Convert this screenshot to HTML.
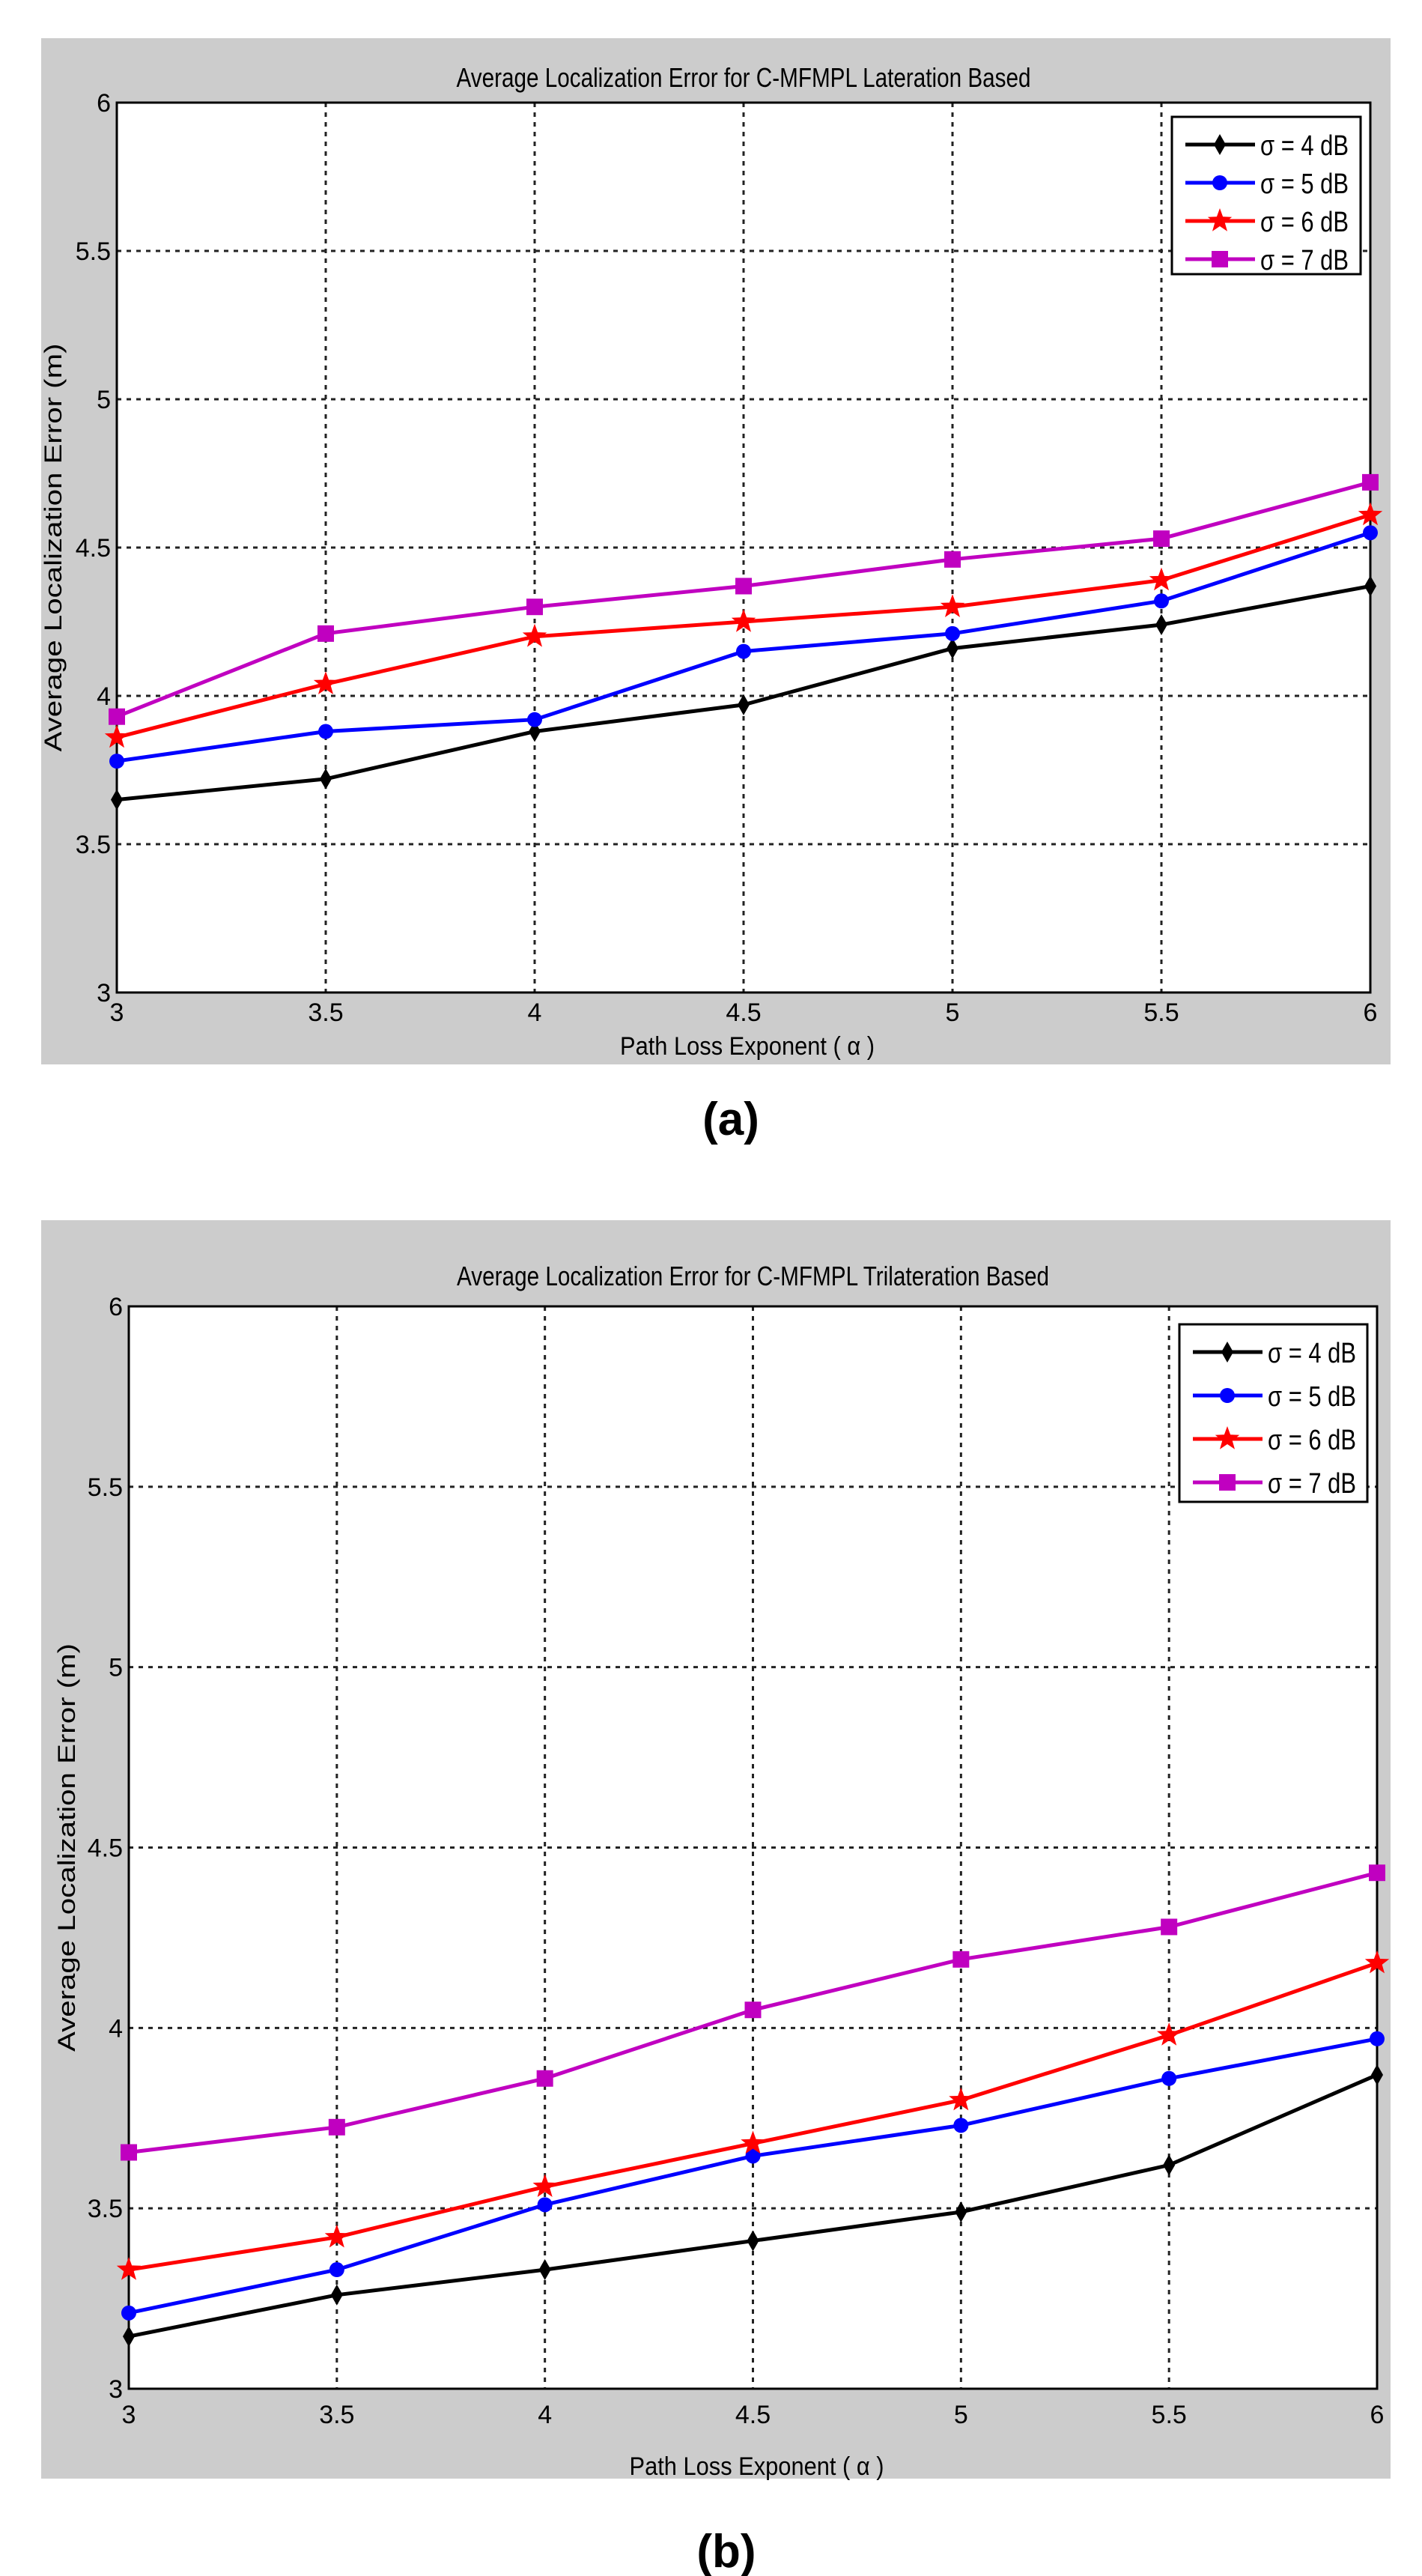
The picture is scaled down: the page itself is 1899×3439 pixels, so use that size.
<!DOCTYPE html>
<html><head><meta charset="utf-8"><style>
html,body{margin:0;padding:0;background:#fff;}
svg{display:block;}
text{font-family:"Liberation Sans",sans-serif;}
</style></head><body>
<svg id="root" width="1899" height="3439" viewBox="0 0 1899 3439" xmlns="http://www.w3.org/2000/svg">
<rect x="0" y="0" width="1899" height="3439" fill="#fff"/>
<g id="chartA"></g>
<g id="chartB"></g>
<text x="976" y="1515" text-anchor="middle" font-family="Liberation Serif,serif" font-weight="bold" font-size="62">(a)</text>
<text x="970" y="3427" text-anchor="middle" font-family="Liberation Serif,serif" font-weight="bold" font-size="62">(b)</text>
</svg>
<script>
const xCats = [3, 3.5, 4, 4.5, 5, 5.5, 6];
const xTickLabels = ["3","3.5","4","4.5","5","5.5","6"];
const yTicks = [3, 3.5, 4, 4.5, 5, 5.5, 6];
const yTickLabels = ["3","3.5","4","4.5","5","5.5","6"];
const seriesNames = ["σ = 4 dB","σ = 5 dB","σ = 6 dB","σ = 7 dB"];
const seriesColors = ["#000000","#0000ff","#ff0000","#c000c0"];
const seriesMarkers = ["diamond","circle","star","square"];
const aSigma4 = [3.65, 3.72, 3.88, 3.97, 4.16, 4.24, 4.37];
const aSigma5 = [3.78, 3.88, 3.92, 4.15, 4.21, 4.32, 4.55];
const aSigma6 = [3.86, 4.04, 4.20, 4.25, 4.30, 4.39, 4.61];
const aSigma7 = [3.93, 4.21, 4.30, 4.37, 4.46, 4.53, 4.72];
const bSigma4 = [3.145, 3.26, 3.33, 3.41, 3.49, 3.62, 3.87];
const bSigma5 = [3.21, 3.33, 3.51, 3.645, 3.73, 3.86, 3.97];
const bSigma6 = [3.33, 3.42, 3.56, 3.68, 3.80, 3.98, 4.18];
const bSigma7 = [3.655, 3.725, 3.86, 4.05, 4.19, 4.28, 4.43];

const NS = "http://www.w3.org/2000/svg";
function mk(tag, attrs, parent){
  const e = document.createElementNS(NS, tag);
  for (const k in attrs) e.setAttribute(k, attrs[k]);
  if (parent) parent.appendChild(e);
  return e;
}
function marker(g, type, cx, cy, color){
  let m;
  if (type === "diamond") m = mk("polygon",{points:`${cx},${cy-14} ${cx+8},${cy} ${cx},${cy+14} ${cx-8},${cy}`,fill:color},g);
  else if (type === "circle") m = mk("circle",{cx:cx,cy:cy,r:10,fill:color},g);
  else if (type === "square") m = mk("rect",{x:cx-11,y:cy-11,width:22,height:22,fill:color},g);
  else {
    let pts=[];
    for(let i=0;i<10;i++){const r=i%2?7:17;const a=-Math.PI/2+i*Math.PI/5;pts.push((cx+r*Math.cos(a)).toFixed(1)+","+(cy+r*Math.sin(a)).toFixed(1));}
    m = mk("polygon",{points:pts.join(" "),fill:color},g);
  }
  return m;
}
function drawChart(root, cfg, series){
  const {px,py,pw,ph,L,T,R,B,title,titleY,titleW,xlabY,ylabX,leg,rowH,xtOff} = cfg;
  const bg = mk("rect",{x:px,y:py,width:pw,height:ph,fill:"#cccccc"},root);
  
  
  const plot = mk("rect",{x:L,y:T,width:R-L,height:B-T,fill:"#fff"},root);
  
  
  const xs = v => L + (v-3)/(6-3)*(R-L);
  const ys = v => B - (v-3)/(6-3)*(B-T);
  const grid = mk("g",{},root);
  
  
  xCats.forEach((v,i)=>{
    if(i>0&&i<xCats.length-1) mk("line",{x1:xs(v),x2:xs(v),y1:T,y2:B,stroke:"#222","stroke-width":3,"stroke-dasharray":"6,7"},grid);
    const t = mk("text",{x:xs(v),y:B+xtOff,"text-anchor":"middle","font-size":34,fill:"#000"},root);
    t.textContent = xTickLabels[i];
    
    
  });
  yTicks.forEach((v,i)=>{
    if(i>0&&i<yTicks.length-1) mk("line",{x1:L,x2:R,y1:ys(v),y2:ys(v),stroke:"#222","stroke-width":3,"stroke-dasharray":"6,7"},grid);
    const t = mk("text",{x:L-8,y:ys(v)+12,"text-anchor":"end","font-size":34,fill:"#000"},root);
    t.textContent = yTickLabels[i];
    
    
  });
  const frame = mk("rect",{x:L,y:T,width:R-L,height:B-T,fill:"none",stroke:"#000","stroke-width":3},root);
  
  
  series.forEach((vals,si)=>{
    const g = mk("g",{},root);
    
    
    const pts = vals.map((v,i)=>xs(xCats[i]).toFixed(1)+","+ys(v).toFixed(1)).join(" ");
    mk("polyline",{points:pts,fill:"none",stroke:seriesColors[si],"stroke-width":5},g);
    vals.forEach((v,i)=>{
      const m = marker(g, seriesMarkers[si], xs(xCats[i]), ys(v), seriesColors[si]);
      
      
    });
  });
  const tt = mk("text",{x:(L+R)/2,y:titleY,"text-anchor":"middle","font-size":36,textLength:titleW,lengthAdjust:"spacingAndGlyphs",fill:"#000"},root);
  tt.textContent = title;
  
  
  const xl = mk("text",{x:(L+R)/2+5,y:xlabY,"text-anchor":"middle","font-size":34,textLength:340,lengthAdjust:"spacingAndGlyphs",fill:"#000"},root);
  xl.textContent = "Path Loss Exponent ( α )";
  
  
  const cy = (T+B)/2;
  const yl = mk("text",{x:ylabX,y:cy,"text-anchor":"middle","font-size":32,textLength:545,lengthAdjust:"spacingAndGlyphs",fill:"#000",transform:`rotate(-90 ${ylabX} ${cy})`},root);
  yl.textContent = "Average Localization Error (m)";
  
  
  const lg = mk("g",{},root);
  
  
  mk("rect",{x:leg.x,y:leg.y,width:leg.w,height:leg.h,fill:"#fff",stroke:"#000","stroke-width":3},lg);
  seriesNames.forEach((n,si)=>{
    const ry = leg.y + 37 + si*rowH;
    const e = mk("g",{},lg);
    
    
    mk("line",{x1:leg.x+18,x2:leg.x+111,y1:ry,y2:ry,stroke:seriesColors[si],"stroke-width":5},e);
    marker(e, seriesMarkers[si], leg.x+64, ry, seriesColors[si]);
    const t = mk("text",{x:leg.x+118,y:ry+14,"font-size":38,textLength:118,lengthAdjust:"spacingAndGlyphs",fill:"#000"},e);
    t.textContent = n;
  });
}
drawChart(document.getElementById("chartA"),
  {px:55,py:51,pw:1802,ph:1370,L:156,T:137,R:1830,B:1325,
   title:"Average Localization Error for C-MFMPL Lateration Based",titleY:116,titleW:767,xlabY:1408,ylabX:82,
   leg:{x:1565,y:156,w:252,h:210},rowH:51,xtOff:38},
  [aSigma4,aSigma5,aSigma6,aSigma7]);
drawChart(document.getElementById("chartB"),
  {px:55,py:1629,pw:1802,ph:1680,L:172,T:1744,R:1839,B:3189,
   title:"Average Localization Error for C-MFMPL Trilateration Based",titleY:1716,titleW:791,xlabY:3304,ylabX:100,
   leg:{x:1575,y:1768,w:251,h:237},rowH:58,xtOff:46},
  [bSigma4,bSigma5,bSigma6,bSigma7]);
</script>
</body></html>
